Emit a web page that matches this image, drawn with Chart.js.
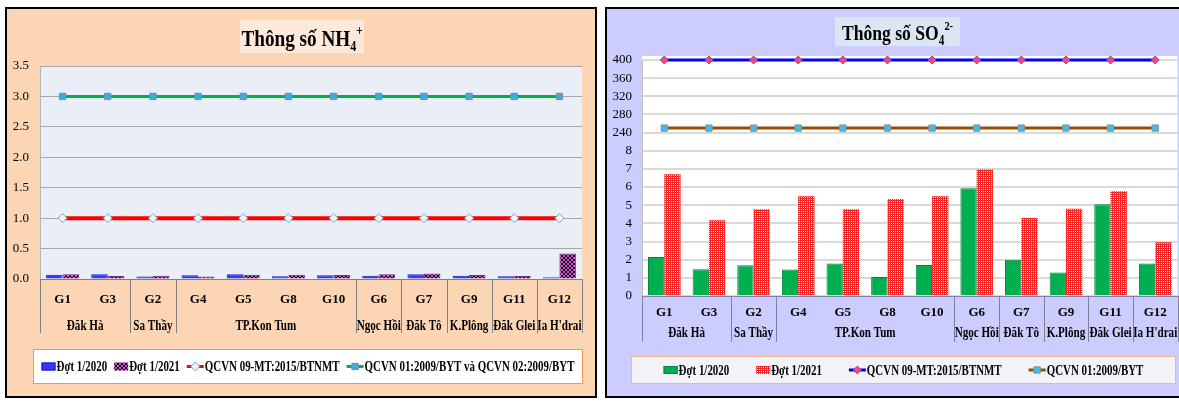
<!DOCTYPE html>
<html>
<head>
<meta charset="utf-8">
<script src="https://cdn.jsdelivr.net/npm/chart.js@4/dist/chart.umd.min.js"></script>
<style>
  html, body { margin: 0; padding: 0; background: #fff; width: 1179px; height: 401px; overflow: hidden; }
  .panel { position: absolute; top: 7px; height: 391px; box-sizing: border-box; border: 2px solid #000; overflow: hidden; }
  #p1 { left: 5px; width: 592px; background: #FCD5B4; }
  #p2 { left: 605px; width: 580px; background: #CCCCFF; }
  canvas { position: absolute; left: 0; top: 0; }
</style>
</head>
<body>
<div class="panel" id="p1"><canvas id="c1" width="588" height="387"></canvas></div>
<div class="panel" id="p2"><canvas id="c2" width="576" height="387"></canvas></div>
<script>
// Sampling sites and the districts they belong to
const sites = ['G1', 'G3', 'G2', 'G4', 'G5', 'G8', 'G10', 'G6', 'G7', 'G9', 'G11', 'G12'];
const districtNames = ['Đăk Hà', 'Sa Thầy', 'TP.Kon Tum', 'Ngọc Hồi', 'Đăk Tô', 'K.Plông', 'Đăk Glei', "Ia H'drai"];
const districtSizes = [2, 1, 4, 1, 1, 1, 1, 1];
const roundNames = ['Đợt 1/2020', 'Đợt 1/2021'];

// NH4+ (mg/l)
const nh4Round2020 = [0.07, 0.08, 0.04, 0.06, 0.08, 0.045, 0.06, 0.055, 0.08, 0.055, 0.045, 0.03];
const nh4Round2021 = [0.08, 0.05, 0.055, 0.04, 0.07, 0.07, 0.065, 0.08, 0.09, 0.065, 0.05, 0.42];
const nh4LimitMT = [1, 1, 1, 1, 1, 1, 1, 1, 1, 1, 1, 1];
const nh4LimitBYT = [3, 3, 3, 3, 3, 3, 3, 3, 3, 3, 3, 3];
const nh4Ticks = [0, 0.5, 1, 1.5, 2, 2.5, 3, 3.5];
const nh4LimitNames = ['QCVN 09-MT:2015/BTNMT', 'QCVN 01:2009/BYT và QCVN 02:2009/BYT'];

// SO4 2- (mg/l)
const so4Round2020 = [2.15, 1.47, 1.69, 1.46, 1.79, 1.05, 1.71, 5.94, 1.99, 1.29, 5.06, 1.79];
const so4Round2021 = [6.7, 4.17, 4.78, 5.5, 4.78, 5.35, 5.5, 6.97, 4.3, 4.8, 5.77, 2.96];
const so4LimitMT = [400, 400, 400, 400, 400, 400, 400, 400, 400, 400, 400, 400];
const so4LimitBYT = [250, 250, 250, 250, 250, 250, 250, 250, 250, 250, 250, 250];
const so4Ticks = [0, 1, 2, 3, 4, 5, 6, 7, 8, 240, 280, 320, 360, 400];
const so4LimitNames = ['QCVN 09-MT:2015/BTNMT', 'QCVN 01:2009/BYT'];

const SERIF = '"Liberation Serif", "Times New Roman", serif';
Chart.defaults.font.family = SERIF;
Chart.defaults.color = '#000';

// Value axis with a break: each listed tick gets an equal slot, values are
// interpolated linearly inside the slot they fall in.
class BrokenLinearScale extends Chart.LinearScale {
  determineDataLimits() {
    const t = this.options.breakTicks;
    this.min = t[0];
    this.max = t[t.length - 1];
  }
  buildTicks() {
    return this.options.breakTicks.map(v => ({ value: v }));
  }
  _slot(v) {
    const t = this.options.breakTicks;
    if (v <= t[0]) return 0;
    for (let i = 0; i < t.length - 1; i++) {
      if (v <= t[i + 1]) return i + (v - t[i]) / (t[i + 1] - t[i]);
    }
    return t.length - 1;
  }
  getPixelForValue(v) {
    if (v === null || v === undefined || isNaN(v)) return NaN;
    return this.getPixelForDecimal(this._slot(v) / (this.options.breakTicks.length - 1));
  }
  getValueForPixel(p) {
    const t = this.options.breakTicks;
    const s = Math.max(0, Math.min(t.length - 1, this.getDecimalForPixel(p) * (t.length - 1)));
    const i = Math.min(Math.floor(s), t.length - 2);
    return t[i] + (s - i) * (t[i + 1] - t[i]);
  }
}
BrokenLinearScale.id = 'brokenLinear';
BrokenLinearScale.defaults = { ticks: { callback: v => String(v) } };
Chart.register(BrokenLinearScale);

function makePattern(ctx, size, base, spot, cells) {
  const c = document.createElement('canvas');
  c.width = c.height = size;
  const g = c.getContext('2d');
  g.fillStyle = base;
  g.fillRect(0, 0, size, size);
  g.fillStyle = spot;
  cells.forEach(([x, y, w, h]) => g.fillRect(x, y, w, h));
  return ctx.createPattern(c, 'repeat');
}

function drawText(ctx, s, x, y, font, sx, baseline) {
  ctx.save();
  ctx.font = font;
  ctx.fillStyle = '#000';
  ctx.textAlign = 'left';
  ctx.textBaseline = baseline || 'alphabetic';
  ctx.translate(x, y);
  ctx.scale(sx, 1);
  ctx.fillText(s, 0, 0);
  ctx.restore();
}
function textWidth(ctx, s, font, sx) {
  ctx.save();
  ctx.font = font;
  const w = ctx.measureText(s).width * sx;
  ctx.restore();
  return w;
}
function drawMarker(ctx, m, x, y) {
  ctx.save();
  ctx.fillStyle = m.fill;
  ctx.strokeStyle = m.stroke;
  Chart.helpers.drawPoint(ctx, { pointStyle: m.style, radius: m.radius, rotation: 0, borderWidth: 1 }, x, y);
  ctx.restore();
}

// Plot background, district row, title and legend for one panel
function makeDecor(cfg) {
  return {
    id: 'panelDecor',
    beforeDraw(chart) {
      const { ctx, chartArea: a } = chart;
      ctx.save();
      ctx.fillStyle = cfg.plotFill;
      ctx.fillRect(a.left, a.top - cfg.plotTopPad, a.right - a.left, a.bottom - a.top + cfg.plotTopPad);
      ctx.restore();
    },
    afterDraw(chart) {
      const { ctx, chartArea: a } = chart;
      const xs = chart.scales.x;
      const half = (xs.getPixelForValue(1) - xs.getPixelForValue(0)) / 2;
      const groupFont = 'bold 15px ' + SERIF;

      // district separators and names
      ctx.save();
      ctx.strokeStyle = cfg.sepColor;
      ctx.lineWidth = 1;
      let start = 0;
      const edges = [0];
      districtSizes.forEach(n => { start += n; edges.push(start); });
      edges.forEach(i => {
        const x = Math.round(xs.getPixelForValue(i) - half) + 0.5;
        ctx.beginPath();
        ctx.moveTo(x, a.bottom);
        ctx.lineTo(x, cfg.sepBottom);
        ctx.stroke();
      });
      ctx.restore();
      districtNames.forEach((name, k) => {
        const first = edges[k], last = edges[k + 1] - 1;
        const cx = (xs.getPixelForValue(first) + xs.getPixelForValue(last)) / 2;
        const w = textWidth(ctx, name, groupFont, cfg.groupSx);
        drawText(ctx, name, cx - w / 2, cfg.groupY, groupFont, cfg.groupSx, 'middle');
      });

      // title with sub/superscripts
      const t = cfg.title;
      ctx.save();
      ctx.fillStyle = t.fill;
      ctx.fillRect(t.box[0], t.box[1], t.box[2], t.box[3]);
      ctx.restore();
      let total = 0;
      t.parts.forEach(p => { total += textWidth(ctx, p.text, 'bold ' + p.size + 'px ' + SERIF, t.sx); });
      let tx = t.box[0] + (t.box[2] - total) / 2;
      t.parts.forEach(p => {
        const f = 'bold ' + p.size + 'px ' + SERIF;
        drawText(ctx, p.text, tx, t.base + p.dy, f, t.sx);
        tx += textWidth(ctx, p.text, f, t.sx);
      });

      // legend
      const L = cfg.legend;
      ctx.save();
      ctx.fillStyle = L.fill;
      ctx.fillRect(L.box[0], L.box[1], L.box[2], L.box[3]);
      ctx.strokeStyle = L.stroke;
      ctx.lineWidth = 1;
      ctx.strokeRect(L.box[0] + 0.5, L.box[1] + 0.5, L.box[2] - 1, L.box[3] - 1);
      ctx.restore();
      const lf = 'bold 14px ' + SERIF;
      const widths = L.items.map(it => (it.kind === 'bar' ? 14 : 17) + 1 + textWidth(ctx, it.label, lf, cfg.textSx));
      const sum = widths.reduce((s, w) => s + w, 0) + L.gap * (L.items.length - 1);
      let lx = L.box[0] + (L.box[2] - sum) / 2;
      const cy = L.box[1] + L.box[3] / 2;
      L.items.forEach((it, k) => {
        ctx.save();
        if (it.kind === 'bar') {
          ctx.fillStyle = it.fill;
          ctx.fillRect(lx, cy - 4, 14, 8);
          if (it.border) { ctx.strokeStyle = it.border; ctx.lineWidth = 1; ctx.strokeRect(lx + 0.5, cy - 3.5, 13, 7); }
          ctx.restore();
          drawText(ctx, it.label, lx + 15, cy + 1, lf, cfg.textSx, 'middle');
        } else {
          ctx.strokeStyle = it.color;
          ctx.lineWidth = 3;
          ctx.beginPath();
          ctx.moveTo(lx, cy);
          ctx.lineTo(lx + 17, cy);
          ctx.stroke();
          ctx.restore();
          drawMarker(ctx, it.marker, lx + 8.5, cy);
          drawText(ctx, it.label, lx + 18, cy + 1, lf, cfg.textSx, 'middle');
        }
        lx += widths[k] + L.gap;
      });
    }
  };
}

function lineDataset(label, data, color, width, marker) {
  return {
    type: 'line', label, data, order: 0,
    borderColor: color, borderWidth: width, fill: false, tension: 0,
    pointStyle: marker.style, pointRadius: marker.radius,
    pointBackgroundColor: marker.fill, pointBorderColor: marker.stroke, pointBorderWidth: 1
  };
}
function barDataset(label, data, fill, border, bw) {
  return {
    type: 'bar', label, data, order: 1,
    backgroundColor: fill, borderColor: border, borderWidth: bw,
    categoryPercentage: 0.73, barPercentage: 1.0
  };
}

// ---------- NH4+ panel ----------
const ctx1 = document.getElementById('c1').getContext('2d');
const purpleDots = makePattern(ctx1, 4, '#D24BD2', '#1A001A', [[0, 0, 2, 2], [2, 2, 2, 2]]);
const nh4MarkMT = { style: 'rectRot', radius: 4.5, fill: '#EAF6FB', stroke: '#7FA7B8' };
const nh4MarkBYT = { style: 'rect', radius: 4.5, fill: '#2FB0E8', stroke: '#9A8090' };

new Chart(ctx1, {
  type: 'bar',
  data: {
    labels: sites,
    datasets: [
      lineDataset(nh4LimitNames[0], nh4LimitMT, '#FF0000', 4, nh4MarkMT),
      lineDataset(nh4LimitNames[1], nh4LimitBYT, '#00B050', 3, nh4MarkBYT),
      barDataset(roundNames[0], nh4Round2020, '#3535FF', '#1E1EB4', 1),
      barDataset(roundNames[1], nh4Round2021, purpleDots, '#7A2A7A', 1)
    ]
  },
  options: {
    responsive: false, animation: false, devicePixelRatio: 1,
    layout: { padding: { top: 57, left: 0, right: 13, bottom: 57 } },
    plugins: { legend: { display: false }, tooltip: { enabled: false }, title: { display: false } },
    scales: {
      x: {
        grid: { display: false },
        border: { display: true, color: '#808080', width: 1 },
        ticks: { font: { size: 13, weight: 'bold' }, color: '#000', padding: 5, maxRotation: 0, autoSkip: false },
        afterFit: s => { s.height = 60; }
      },
      y: {
        min: 0, max: 3.5,
        afterBuildTicks: s => { s.ticks = nh4Ticks.map(v => ({ value: v })); },
        grid: { color: '#A6A6A6', lineWidth: 1, drawTicks: false },
        border: { display: true, color: '#B4B4B4', width: 1 },
        ticks: { font: { size: 13 }, color: '#000', padding: 11, callback: v => Number(v).toFixed(1) },
        afterFit: s => { s.width = 33; }
      }
    }
  },
  plugins: [makeDecor({
    plotFill: '#EAEFF7', plotTopPad: 0,
    sepColor: '#7F7F7F', sepBottom: 324, groupY: 317, textSx: 0.78, groupSx: 0.74,
    title: {
      box: [233, 11, 124, 33], fill: '#FDE9D9', base: 37, sx: 0.8,
      parts: [{ text: 'Thông số NH', size: 24, dy: 0 }, { text: '4', size: 15, dy: 5 }, { text: '+', size: 14, dy: -11 }]
    },
    legend: {
      box: [26, 340, 550, 35], fill: '#FFFFFF', stroke: '#F79646', gap: 7,
      items: [
        { kind: 'bar', label: roundNames[0], fill: '#3535FF', border: '#1E1EB4' },
        { kind: 'bar', label: roundNames[1], fill: purpleDots },
        { kind: 'line', label: nh4LimitNames[0], color: '#FF0000', marker: nh4MarkMT },
        { kind: 'line', label: nh4LimitNames[1], color: '#00B050', marker: nh4MarkBYT }
      ]
    }
  })]
});

// ---------- SO4 2- panel ----------
const ctx2 = document.getElementById('c2').getContext('2d');
const redDots = makePattern(ctx2, 2, '#FF2222', '#FFD0D0', [[0, 0, 1, 1]]);
const so4MarkMT = { style: 'rectRot', radius: 4, fill: '#E34C8A', stroke: '#B0406C' };
const so4MarkBYT = { style: 'rect', radius: 4.5, fill: '#35C0F0', stroke: '#909090' };

new Chart(ctx2, {
  type: 'bar',
  data: {
    labels: sites,
    datasets: [
      lineDataset(so4LimitNames[0], so4LimitMT, '#0000FF', 3, so4MarkMT),
      lineDataset(so4LimitNames[1], so4LimitBYT, '#9C4A00', 3, so4MarkBYT),
      barDataset(roundNames[0], so4Round2020, '#00B050', '#00843C', 1),
      barDataset(roundNames[1], so4Round2021, redDots, '#FF6060', 0)
    ]
  },
  options: {
    responsive: false, animation: false, devicePixelRatio: 1,
    layout: { padding: { top: 51, left: 0, right: 5, bottom: 40 } },
    plugins: { legend: { display: false }, tooltip: { enabled: false }, title: { display: false } },
    scales: {
      x: {
        grid: { display: false },
        border: { display: true, color: '#8080A8', width: 1 },
        ticks: { font: { size: 13, weight: 'bold' }, color: '#000', padding: 1, maxRotation: 0, autoSkip: false },
        afterFit: s => { s.height = 60; }
      },
      y: {
        type: 'brokenLinear',
        breakTicks: so4Ticks,
        grid: { color: '#D9D9D9', lineWidth: 2, drawTicks: false },
        border: { display: true, color: '#C0C0C0', width: 1 },
        ticks: { font: { size: 13 }, color: '#000', padding: 10, autoSkip: false, callback: v => String(v) },
        afterFit: s => { s.width = 35; }
      }
    }
  },
  plugins: [makeDecor({
    plotFill: '#FFFFFF', plotTopPad: 4,
    sepColor: '#7F7FA0', sepBottom: 333, groupY: 324, textSx: 0.78, groupSx: 0.74,
    title: {
      box: [228, 8, 125, 29], fill: '#DCE6F2', base: 30.5, sx: 0.8,
      parts: [{ text: 'Thông số SO', size: 22, dy: 0 }, { text: '4', size: 14, dy: 5 }, { text: '2-', size: 13, dy: -10 }]
    },
    legend: {
      box: [24, 347, 545, 28], fill: '#F2F2F8', stroke: '#F2B887', gap: 27,
      items: [
        { kind: 'bar', label: roundNames[0], fill: '#00B050', border: '#00843C' },
        { kind: 'bar', label: roundNames[1], fill: redDots },
        { kind: 'line', label: so4LimitNames[0], color: '#0000FF', marker: so4MarkMT },
        { kind: 'line', label: so4LimitNames[1], color: '#9C4A00', marker: so4MarkBYT }
      ]
    }
  })]
});
</script>
</body>
</html>
